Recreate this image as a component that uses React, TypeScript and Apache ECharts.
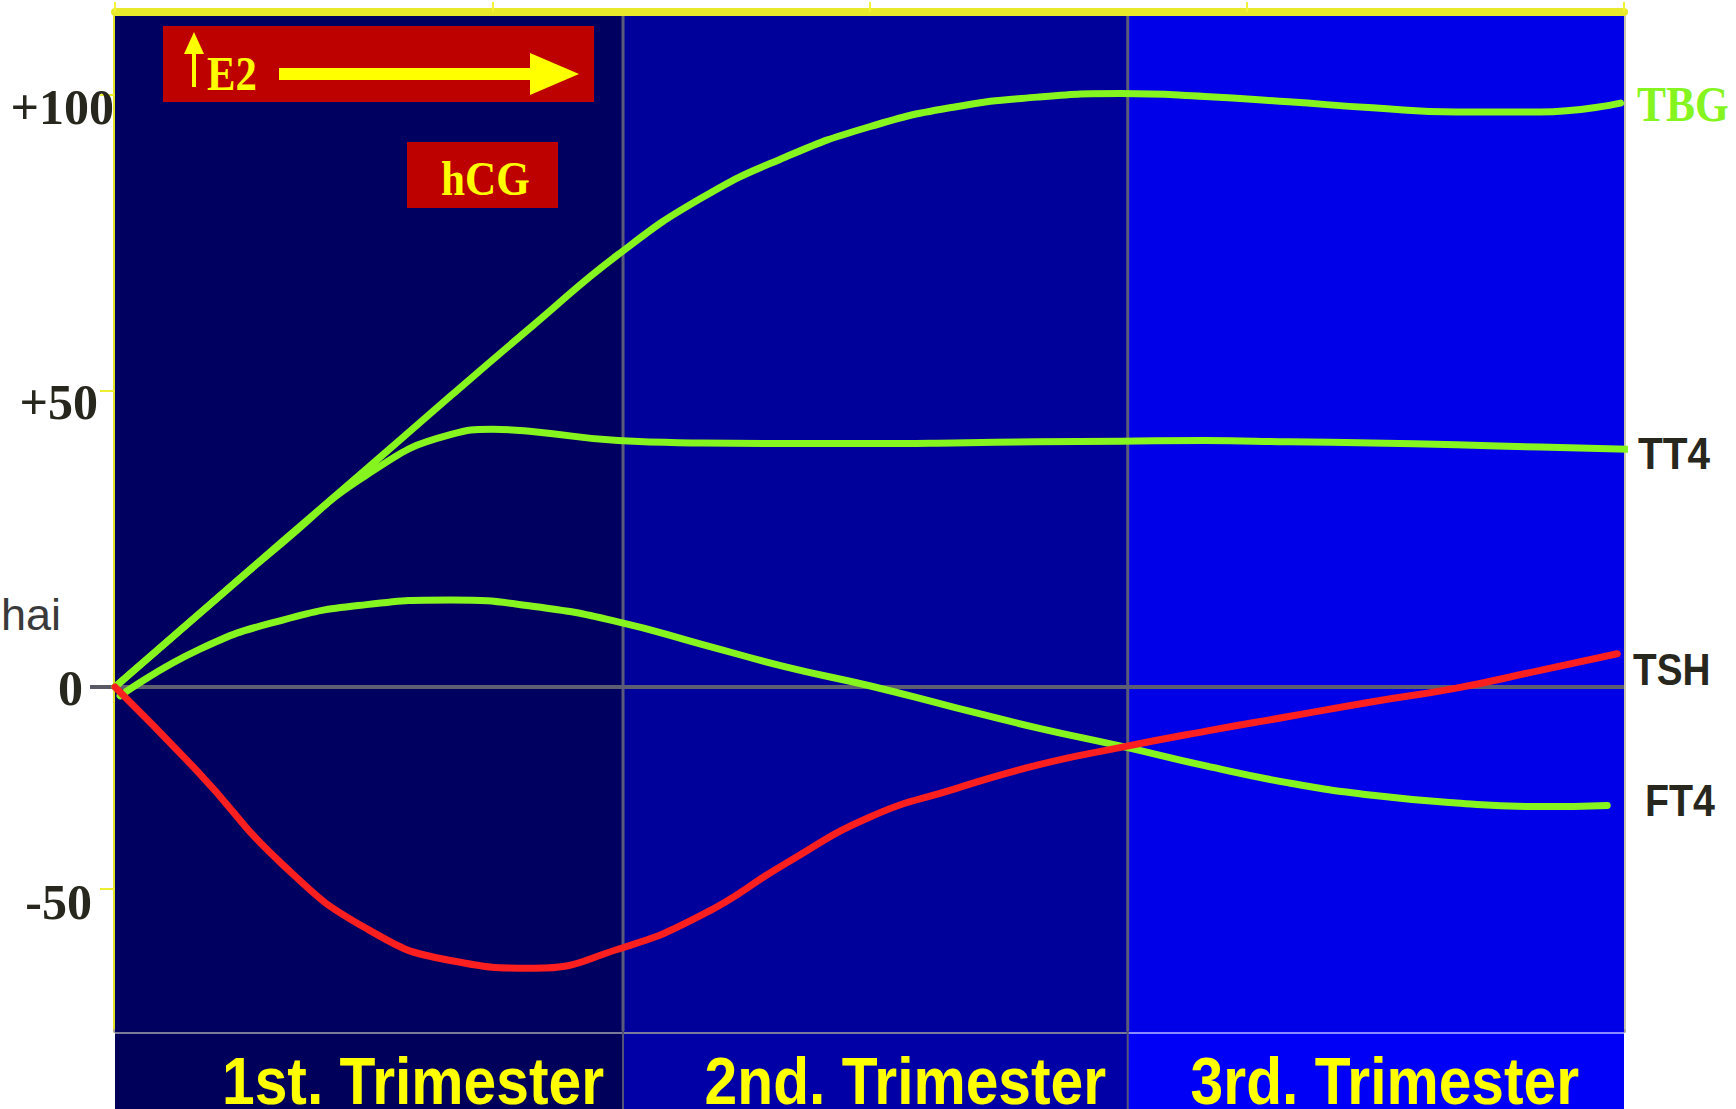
import React, { useEffect, useRef } from "react";
import * as echarts from "echarts";

// ---------- data ----------
const trimesterNames = ["1st. Trimester", "2nd. Trimester", "3rd. Trimester"];
const trimesterBounds = [0, 3.03, 6.04, 9]; // months
const monthRange = [0, 9];
const topTickStep = 2.25;
const yRange = [-58.1, 113.3];
const yTickValues = [100, 50, 0, -34];
const yTickLabels = ["+100", "+50", "0", "-50"];
const yTickMarks = [100, 50, -34];
const zeroTick = [0];
const seriesNames = ["TBG", "TT4", "FT4", "TSH"];
const annotationLabels = ["E2", "hCG"];
const sideNote = "hai";

const tbg = [
  [0, 0], [0.5, 12.3], [1, 24.6], [1.5, 36.8], [2, 49.1], [2.5, 61.2], [3, 73],
  [3.5, 82.6], [4, 89.5], [4.5, 94.6], [5, 97.9], [5.5, 99.6], [6, 100.2],
  [6.5, 99.7], [7, 98.8], [7.5, 97.8], [8, 97.1], [8.5, 97.1], [8.98, 98.6],
];
const tt4 = [
  [0, 0], [0.5, 12.3], [1, 24.4], [1.5, 35.8], [2, 42.6], [2.25, 43.5], [2.5, 43.1],
  [3, 41.6], [3.5, 41.2], [4, 41.1], [4.5, 41.1], [5, 41.2], [5.5, 41.4], [6, 41.5],
  [6.5, 41.6], [7, 41.4], [7.5, 41.2], [8, 40.9], [8.5, 40.5], [9.05, 40.1],
];
const ft4 = [
  [0.03, -1.5], [0.5, 6.3], [1, 11.3], [1.5, 13.9], [2, 14.7], [2.5, 13.6], [3, 11],
  [3.5, 7.2], [4, 3.4], [4.5, 0.2], [5, -3.4], [5.5, -6.9], [6, -10], [6.5, -13.3],
  [7, -16.2], [7.5, -18.3], [8, -19.6], [8.5, -20.2], [8.9, -20],
];
const tsh = [
  [0, 0], [0.5, -14.5], [1, -30], [1.5, -40.8], [2, -46.2], [2.5, -47.5], [3, -44.3],
  [3.5, -38.5], [4, -29.8], [4.5, -22], [5, -17.3], [5.5, -13.2], [6, -10.2],
  [6.5, -7.5], [7, -5], [7.5, -2.5], [8, -0.2], [8.5, 2.8], [8.96, 5.6],
];

// ---------- styles ----------
const GREEN = "#86f51f";
const RED = "#fb1f1f";
const YELLOW = "#ffff00";
const BOX_RED = "#bd0000";
const DARK_TEXT = "#27271d";
const BAND = ["#000060", "#00009a", "#0000e8"];
const LOWER_BAND = ["#00005a", "#0000a6", "#0000f6"];
const LABEL_SHIFT = [44, 30, 9];
const SERIES_COLORS = [GREEN, GREEN, GREEN, RED];

const yLabelBase = {
  fontFamily: '"Liberation Serif", serif',
  fontWeight: "bold",
  fontSize: 50,
  color: DARK_TEXT,
};

export default function App() {
  const ref = useRef<HTMLDivElement>(null);

  useEffect(() => {
    const chart = echarts.init(ref.current!, null, { renderer: "svg" });

    const bandData = trimesterNames.map((_, i) => [trimesterBounds[i], trimesterBounds[i + 1], i]);

    const bandsSeries: any = {
      type: "custom",
      xAxisIndex: 0,
      yAxisIndex: 0,
      z: 1,
      silent: true,
      clip: false,
      data: bandData,
      renderItem: (params: any, api: any) => {
        const cs = params.coordSys;
        const i = api.value(2);
        const a = api.coord([api.value(0), 0]);
        const b = api.coord([api.value(1), 0]);
        const children: any[] = [
          { type: "rect", shape: { x: a[0], y: cs.y, width: b[0] - a[0], height: cs.height }, style: { fill: BAND[i] } },
          { type: "line", shape: { x1: a[0], y1: a[1], x2: b[0], y2: a[1] }, style: { stroke: "#5e5e72", lineWidth: 4 } },
        ];
        if (i > 0) {
          children.push({ type: "line", shape: { x1: a[0], y1: cs.y, x2: a[0], y2: cs.y + cs.height }, style: { stroke: "#5a5a7c", lineWidth: 3 } });
        }
        return { type: "group", children };
      },
    };

    const lowerSeries: any = {
      type: "custom",
      xAxisIndex: 2,
      yAxisIndex: 3,
      z: 1,
      silent: true,
      clip: false,
      data: bandData,
      renderItem: (params: any, api: any) => {
        const cs = params.coordSys;
        const i = api.value(2);
        const a = api.coord([api.value(0), 0]);
        const b = api.coord([api.value(1), 0]);
        const children: any[] = [
          { type: "rect", shape: { x: a[0], y: cs.y, width: b[0] - a[0], height: cs.height }, style: { fill: LOWER_BAND[i] } },
          { type: "line", shape: { x1: a[0], y1: cs.y + 2, x2: b[0], y2: cs.y + 2 }, style: { stroke: i === 2 ? "#8a8aff" : "#7a7a9a", lineWidth: 2 } },
        ];
        if (i > 0) {
          children.push({ type: "line", shape: { x1: a[0], y1: cs.y, x2: a[0], y2: cs.y + cs.height }, style: { stroke: "#55557a", lineWidth: 2 } });
        }
        children.push({
          type: "text",
          x: (a[0] + b[0]) / 2 + LABEL_SHIFT[i],
          y: cs.y + 49.5,
          scaleX: 0.89,
          style: {
            text: trimesterNames[i],
            fill: YELLOW,
            font: 'bold 66px "Liberation Sans", sans-serif',
            align: "center",
            textAlign: "center",
            verticalAlign: "middle",
            textVerticalAlign: "middle",
            shadowColor: "rgba(0,0,0,0.85)",
            shadowBlur: 3,
            shadowOffsetX: 1.5,
            shadowOffsetY: 1.5,
          },
        });
        return { type: "group", children };
      },
    };

    const lineSeries = [tbg, tt4, ft4, tsh].map((d, i) => ({
      name: seriesNames[i],
      type: "line",
      data: d,
      xAxisIndex: 0,
      yAxisIndex: 0,
      smooth: 0.5,
      symbol: "none",
      z: 5,
      clip: false,
      silent: true,
      lineStyle: { width: 7, color: SERIES_COLORS[i], cap: "round", join: "round" },
    }));

    const richLabels: any = {
      t0: { ...yLabelBase, padding: [24, 0, 0, 0] },
      t1: { ...yLabelBase, padding: [22, 16, 0, 0] },
      t2: { ...yLabelBase, padding: [2, 31, 0, 0] },
      t3: { ...yLabelBase, padding: [28, 22, 0, 0] },
    };

    const hidden = { axisLine: { show: false }, axisTick: { show: false }, axisLabel: { show: false }, splitLine: { show: false } };

    const textEl = (text: string, x: number, y: number, font: string, fill: string, scaleX: number, align = "left") => ({
      type: "text",
      x,
      y,
      scaleX,
      z: 100,
      silent: true,
      style: { text, font, fill, align, textAlign: align, verticalAlign: "middle", textVerticalAlign: "middle" },
    });

    chart.setOption({
      animation: false,
      backgroundColor: "#ffffff",
      grid: [
        { left: 115, right: 112, top: 16, bottom: 78 },
        { left: 115, right: 112, top: 1031, bottom: 0 },
      ],
      xAxis: [
        {
          type: "value", gridIndex: 0, position: "bottom", min: monthRange[0], max: monthRange[1],
          axisLine: { show: true, onZero: false, lineStyle: { color: "#a4a49a", width: 4 } },
          axisTick: { show: false }, axisLabel: { show: false }, splitLine: { show: false },
        },
        {
          type: "value", gridIndex: 0, position: "top", min: monthRange[0], max: monthRange[1],
          interval: topTickStep, offset: 4,
          axisLine: { show: true, onZero: false, lineStyle: { color: "#e9e92c", width: 8 } },
          axisTick: { show: true, length: 10, lineStyle: { color: "#f2f23a", width: 2 } },
          axisLabel: { show: false }, splitLine: { show: false },
        },
        { type: "value", gridIndex: 1, min: monthRange[0], max: monthRange[1], show: false, ...hidden },
      ],
      yAxis: [
        {
          type: "value", gridIndex: 0, position: "left", min: yRange[0], max: yRange[1],
          axisLine: { show: true, onZero: false, lineStyle: { color: "#e2e22a", width: 4 } },
          axisTick: { show: true, customValues: yTickMarks, length: 15, lineStyle: { color: "#eeee30", width: 2 } },
          axisLabel: {
            show: true,
            customValues: yTickValues,
            margin: 1,
            formatter: (v: number) => {
              const i = yTickValues.indexOf(v);
              return i < 0 ? "" : `{t${i}|${yTickLabels[i]}}`;
            },
            rich: richLabels,
          },
          splitLine: { show: false },
        },
        {
          type: "value", gridIndex: 0, position: "left", min: yRange[0], max: yRange[1],
          axisLine: { show: false, onZero: false },
          axisTick: { show: true, customValues: zeroTick, length: 25, lineStyle: { color: "#5a5a66", width: 4 } },
          axisLabel: { show: false }, splitLine: { show: false },
        },
        {
          type: "value", gridIndex: 0, position: "right", min: yRange[0], max: yRange[1],
          axisLine: { show: true, onZero: false, lineStyle: { color: "#c9c6ae", width: 3 } },
          axisTick: { show: false }, axisLabel: { show: false }, splitLine: { show: false },
        },
        { type: "value", gridIndex: 1, min: 0, max: 1, show: false, ...hidden },
      ],
      series: [bandsSeries, ...lineSeries, lowerSeries],
      graphic: [
        { type: "rect", z: 100, silent: true, shape: { x: 163, y: 26, width: 431, height: 76 }, style: { fill: BOX_RED } },
        { type: "rect", z: 101, silent: true, shape: { x: 192, y: 50, width: 4, height: 37 }, style: { fill: YELLOW } },
        { type: "polygon", z: 101, silent: true, shape: { points: [[184, 54], [194, 32], [204, 54]] }, style: { fill: YELLOW } },
        { ...textEl(annotationLabels[0], 207, 74, 'bold 48px "Liberation Serif", serif', YELLOW, 0.89), z: 101 },
        { type: "rect", z: 101, silent: true, shape: { x: 279, y: 68, width: 253, height: 12 }, style: { fill: YELLOW } },
        { type: "polygon", z: 101, silent: true, shape: { points: [[530, 53], [579, 74], [530, 95]] }, style: { fill: YELLOW } },
        { type: "rect", z: 100, silent: true, shape: { x: 407, y: 142, width: 151, height: 66 }, style: { fill: BOX_RED } },
        { ...textEl(annotationLabels[1], 485.5, 178.5, 'bold 48px "Liberation Serif", serif', YELLOW, 0.9, "center"), z: 101 },
        textEl(seriesNames[0], 1637, 103.5, 'bold 50px "Liberation Serif", serif', GREEN, 0.87),
        textEl(seriesNames[1], 1638, 453, 'bold 45px "Liberation Sans", sans-serif', DARK_TEXT, 0.9),
        textEl(seriesNames[3], 1633, 669, 'bold 45px "Liberation Sans", sans-serif', DARK_TEXT, 0.86),
        textEl(seriesNames[2], 1645, 801, 'bold 45px "Liberation Sans", sans-serif', DARK_TEXT, 0.875),
        textEl(sideNote, 1, 614, '45px "Liberation Sans", sans-serif', "#3a3a3a", 1),
      ],
    });

    return () => chart.dispose();
  }, []);

  return (
    <div
      ref={ref}
      style={{ position: "fixed", left: 0, top: 0, width: 1736, height: 1109, background: "#ffffff" }}
    />
  );
}
